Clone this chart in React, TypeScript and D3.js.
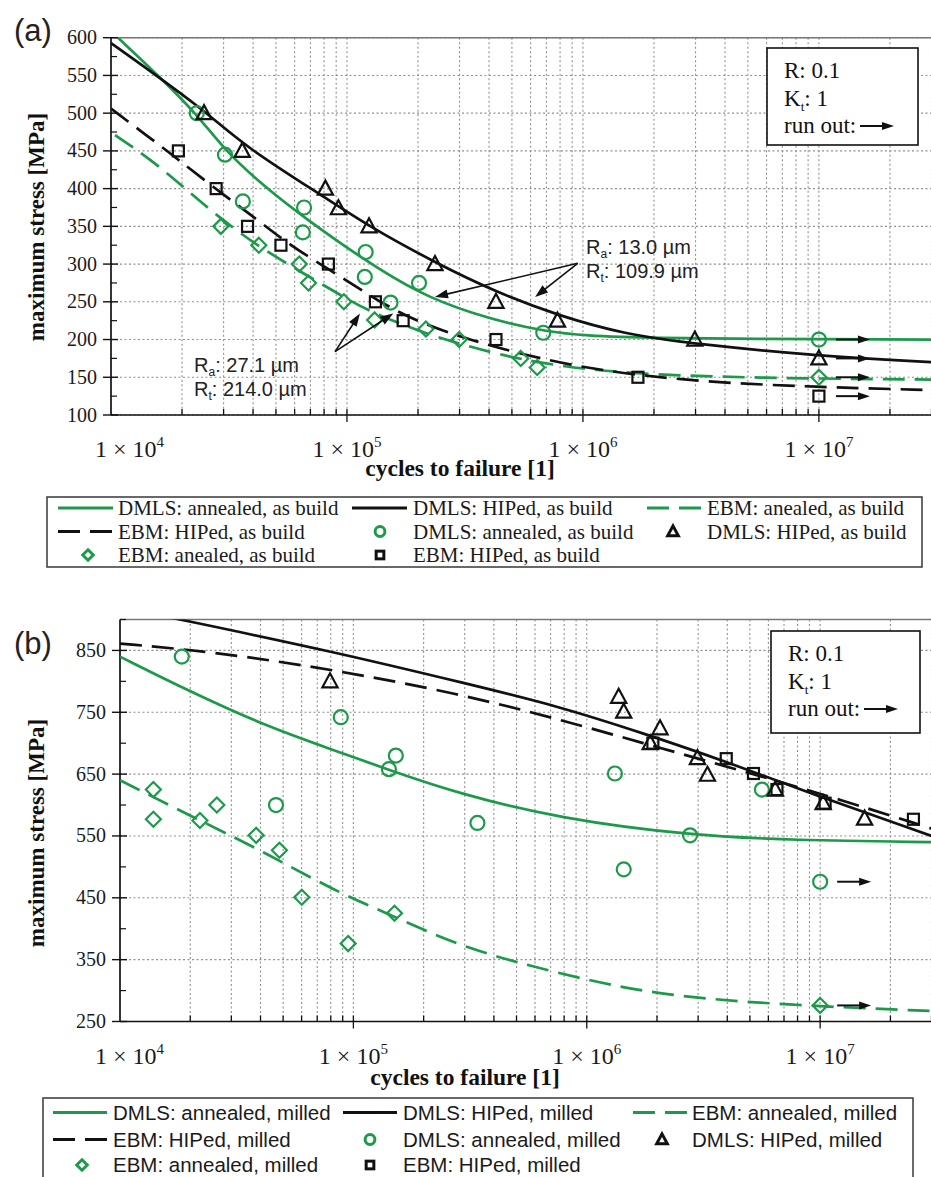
import React from "react";
import * as d3 from "d3";

type Pt = [number, number];

const GREEN = "#1c9a4a";
const INK = "#111111";
const GRID = "#8f8f8f";
const SERIF = "'Liberation Serif', 'Times New Roman', serif";
const SANS = "'Liberation Sans', Arial, sans-serif";

// ---------- shared x axis ----------
const xDomain: Pt = [1e4, 3e7];
const xTickExponents = [4, 5, 6, 7];

// ---------- panel (a): as build ----------
const aYDomain: Pt = [100, 600];
const aYTicks = [100, 150, 200, 250, 300, 350, 400, 450, 500, 550, 600];
const aYMinor = [125, 175, 225, 275, 325, 375, 425, 475, 525, 575];

const aLineDmlsAnnealed: Pt[] = [[1.07e4, 600], [1.5e4, 557], [2.3e4, 500], [3.04e4, 450], [4.5e4, 402], [6.5e4, 363], [1.2e5, 304], [2e5, 262], [3.3e5, 235], [6.8e5, 209], [1.5e6, 201], [3e7, 200]];
const aLineDmlsHiped: Pt[] = [[1e4, 593], [2.48e4, 505], [3.6e4, 458], [8.1e4, 388], [1.24e5, 350], [2.36e5, 302], [4.28e5, 263], [7.8e5, 232], [1.5e6, 207], [3e6, 194], [1e7, 178], [3e7, 170]];
const aLineEbmAnnealed: Pt[] = [[1.04e4, 471], [1.5e4, 437], [2.1e4, 398], [2.92e4, 360], [4.23e4, 323], [6.28e4, 291], [9.7e4, 256], [1.31e5, 234], [2.16e5, 208], [3e5, 194], [6.4e5, 167], [2.12e6, 150], [3e7, 147]];
const aLineEbmHiped: Pt[] = [[1e4, 506], [1.51e4, 464], [1.9e4, 440], [2.71e4, 402], [4.01e4, 363], [5.72e4, 325], [8.5e4, 292], [1.21e5, 261], [1.57e5, 240], [2.04e5, 223], [3.01e5, 203], [8.5e5, 164], [2.93e6, 144], [1e7, 137], [3e7, 133]];

const aPtsDmlsAnnealed: Pt[] = [[2.31e4, 500], [3.04e4, 445], [3.62e4, 383], [6.58e4, 375], [6.5e4, 342], [1.2e5, 316], [1.19e5, 283], [1.53e5, 249], [2.02e5, 275], [6.79e5, 209], [1e7, 200]];
const aPtsDmlsHiped: Pt[] = [[2.48e4, 500], [3.6e4, 450], [8.1e4, 400], [9.2e4, 374], [1.24e5, 350], [2.36e5, 300], [4.28e5, 250], [7.8e5, 225], [2.98e6, 200], [1e7, 175]];
const aPtsEbmAnnealed: Pt[] = [[2.92e4, 350], [4.23e4, 325], [6.28e4, 300], [6.87e4, 275], [9.7e4, 250], [1.31e5, 226], [2.16e5, 214], [2.99e5, 200], [5.45e5, 175], [6.4e5, 163], [1e7, 150]];
const aPtsEbmHiped: Pt[] = [[1.93e4, 450], [2.79e4, 400], [3.79e4, 350], [5.25e4, 325], [8.34e4, 300], [1.32e5, 250], [1.73e5, 225], [4.28e5, 200], [1.71e6, 150], [1e7, 125]];
const aRunouts: Pt[] = [[1e7, 200], [1e7, 175], [1e7, 150], [1e7, 125]];

const aLegendLabels = [
  "DMLS: annealed, as build", "DMLS: HIPed, as build", "EBM: anealed, as build",
  "EBM: HIPed, as build", "DMLS: annealed, as build", "DMLS: HIPed, as build",
  "EBM: anealed, as build", "EBM: HIPed, as build",
];

// ---------- panel (b): milled ----------
const bYDomain: Pt = [250, 900];
const bYTicks = [250, 350, 450, 550, 650, 750, 850];
const bYMinor = [300, 400, 500, 600, 700, 800, 900];

const bLineDmlsAnnealed: Pt[] = [[1e4, 840], [1.93e4, 786], [4.25e4, 727], [8.2e4, 689], [1.44e5, 656], [2.85e5, 618], [7.7e5, 578], [2.77e6, 551], [7.7e6, 543], [3e7, 540]];
const bLineDmlsHiped: Pt[] = [[1e4, 920], [1.81e4, 900], [8.2e4, 848], [3.16e5, 795], [7.7e5, 759], [1.75e6, 716], [3.98e6, 670], [9.06e6, 619], [3e7, 550]];
const bLineEbmAnnealed: Pt[] = [[1e4, 640], [2.2e4, 575], [4.25e4, 522], [8.2e4, 462], [1.58e5, 416], [3e5, 368], [7.7e5, 327], [2e6, 292], [7.7e6, 276], [3e7, 267]];
const bLineEbmHiped: Pt[] = [[1e4, 861], [2.5e4, 848], [8.2e4, 819], [2.85e5, 780], [7.7e5, 738], [1.75e6, 700], [3.98e6, 662], [9.06e6, 624], [3e7, 562]];

const bPtsDmlsAnnealed: Pt[] = [[1.84e4, 840], [8.83e4, 742], [1.52e5, 680], [1.42e5, 658], [4.66e4, 600], [1.32e6, 651], [3.4e5, 571], [2.77e6, 551], [1.44e6, 496], [5.63e6, 625], [1e7, 476]];
const bPtsDmlsHiped: Pt[] = [[7.94e4, 800], [1.37e6, 775], [1.44e6, 751], [2.06e6, 724], [1.87e6, 700], [2.98e6, 676], [3.29e6, 649], [6.42e6, 625], [1.03e7, 603], [1.55e7, 578]];
const bPtsEbmAnnealed: Pt[] = [[1.39e4, 625], [1.39e4, 577], [2.2e4, 575], [2.6e4, 600], [3.83e4, 551], [4.82e4, 527], [6.01e4, 451], [9.5e4, 376], [1.5e5, 425], [1e7, 276]];
const bPtsEbmHiped: Pt[] = [[1.92e6, 700], [3.96e6, 675], [5.18e6, 651], [6.53e6, 625], [1.05e7, 603], [2.51e7, 577]];
const bRunouts: Pt[] = [[1e7, 476], [1e7, 276]];

const bLegendLabels = [
  "DMLS: annealed, milled", "DMLS: HIPed, milled", "EBM: annealed, milled",
  "EBM: HIPed, milled", "DMLS: annealed, milled", "DMLS: HIPed, milled",
  "EBM: annealed, milled", "EBM: HIPed, milled",
];

// roughness annotations (panel a), in data coordinates
const annotTop = { text: ["a", "13.0 µm", "t", "109.9 µm"], from: [9.5e5, 301] as Pt, tips: [[2.36e5, 256.5], [6.27e5, 256.5]] as Pt[] };
const annotBottom = { text: ["a", "27.1 µm", "t", "214.0 µm"], from: [8.9e4, 184] as Pt, tips: [[1.135e5, 234.5], [1.57e5, 234.5]] as Pt[] };

type Shape = "circle" | "triangle" | "square" | "diamond";

function Marker({ shape, x, y, color, s = 1, sw = 2.2 }: { shape: Shape; x: number; y: number; color: string; s?: number; sw?: number }) {
  const common = { fill: "none", stroke: color, strokeWidth: sw, strokeLinejoin: "miter" as const };
  if (shape === "circle") return <circle cx={x} cy={y} r={7 * s} {...common} />;
  if (shape === "square") return <rect x={x - 5.5 * s} y={y - 5.5 * s} width={11 * s} height={11 * s} {...common} />;
  if (shape === "triangle")
    return <path d={`M${x},${y - 8 * s} L${x + 7.6 * s},${y + 6 * s} L${x - 7.6 * s},${y + 6 * s} Z`} {...common} />;
  return <path d={`M${x},${y - 7.5 * s} L${x + 7.5 * s},${y} L${x},${y + 7.5 * s} L${x - 7.5 * s},${y} Z`} {...common} />;
}

function Arrow({ x1, y1, x2, y2, w = 1.6, head = 11, hw = 4 }: { x1: number; y1: number; x2: number; y2: number; w?: number; head?: number; hw?: number }) {
  const dx = x2 - x1, dy = y2 - y1, L = Math.hypot(dx, dy);
  const ux = dx / L, uy = dy / L;
  const bx = x2 - ux * head, by = y2 - uy * head;
  const px = -uy * hw, py = ux * hw;
  return (
    <g>
      <line x1={x1} y1={y1} x2={bx + ux * 2} y2={by + uy * 2} stroke={INK} strokeWidth={w} />
      <polygon points={`${x2},${y2} ${bx + px},${by + py} ${bx - px},${by - py}`} fill={INK} />
    </g>
  );
}

type Curve = { pts: Pt[]; color: string; dash?: string };
type Scatter = { pts: Pt[]; shape: Shape; color: string };
type LegendItem = { kind: "line"; color: string; dash?: string } | { kind: "marker"; shape: Shape; color: string };

type PanelCfg = {
  id: string;
  label: string;
  left: number;
  top: number;
  bottom: number;
  yDomain: Pt;
  yTicks: number[];
  yMinor: number[];
  curves: Curve[];
  scatters: Scatter[];
  runouts: Pt[];
  labelBaseline: number;
  yTitleY: number;
  xTitleX: number;
  xTitleDy: number;
  box: { x: number; y: number; w: number; h: number };
  legend: {
    box: { x: number; y: number; w: number; h: number };
    lineStart: number[];
    lineLen: number;
    textX: number[];
    markerX: number[];
    rows: number[];
    font: string;
    fontSize: number;
    items: LegendItem[];
    labels: string[];
  };
};

const RIGHT = 931.5;

function Panel({ cfg, children }: { cfg: PanelCfg; children?: (x: d3.ScaleLogarithmic<number, number>, y: d3.ScaleLinear<number, number>) => React.ReactNode }) {
  const x = d3.scaleLog().domain(xDomain).range([cfg.left, RIGHT]);
  const y = d3.scaleLinear().domain(cfg.yDomain).range([cfg.bottom, cfg.top]);
  const line = d3.line<Pt>().x((d) => x(d[0])).y((d) => y(d[1])).curve(d3.curveBasis);

  const gridX: number[] = [];
  for (const e of [4, 5, 6, 7]) for (let k = 1; k <= 9; k++) {
    const v = k * Math.pow(10, e);
    if (v > xDomain[0] && v <= xDomain[1] + 1) gridX.push(v);
  }
  const lg = cfg.legend;

  return (
    <g>
      <defs>
        <clipPath id={`clip-${cfg.id}`}>
          <rect x={cfg.left} y={cfg.top} width={RIGHT - cfg.left} height={cfg.bottom - cfg.top} />
        </clipPath>
      </defs>
      {/* grid */}
      {gridX.map((v, i) => (
        <line key={`gx${i}`} x1={x(v)} x2={x(v)} y1={cfg.top} y2={cfg.bottom} stroke={GRID} strokeWidth={1.1} strokeDasharray="2,2.5" />
      ))}
      {cfg.yTicks.map((v, i) => (
        <line key={`gy${i}`} x1={cfg.left} x2={RIGHT} y1={y(v)} y2={y(v)} stroke={GRID} strokeWidth={1.1} strokeDasharray="2,2.5" />
      ))}
      {/* frame */}
      <line x1={cfg.left} x2={RIGHT} y1={cfg.top} y2={cfg.top} stroke="#777" strokeWidth={1.5} />
      <line x1={cfg.left} x2={cfg.left} y1={cfg.top} y2={cfg.bottom} stroke={INK} strokeWidth={1.7} />
      <line x1={cfg.left} x2={RIGHT} y1={cfg.bottom} y2={cfg.bottom} stroke={INK} strokeWidth={1.7} />
      {/* y ticks */}
      {cfg.yTicks.map((v, i) => (
        <g key={`yt${i}`}>
          <line x1={cfg.left - 8} x2={cfg.left + 7} y1={y(v)} y2={y(v)} stroke={INK} strokeWidth={1.4} />
          <text x={cfg.left - 14} y={y(v) + 6.5} textAnchor="end" fontFamily={SERIF} fontSize={20} fill="#1a1a1a">{v}</text>
        </g>
      ))}
      {cfg.yMinor.map((v, i) => (
        <line key={`ym${i}`} x1={cfg.left} x2={cfg.left + 6} y1={y(v)} y2={y(v)} stroke={INK} strokeWidth={1.2} />
      ))}
      {/* x ticks */}
      {gridX.map((v, i) => {
        const major = Math.abs(Math.log10(v) - Math.round(Math.log10(v))) < 1e-9;
        return <line key={`xt${i}`} x1={x(v)} x2={x(v)} y1={cfg.bottom - 6} y2={cfg.bottom + (major ? 7 : 0)} stroke={INK} strokeWidth={1.3} />;
      })}
      {xTickExponents.map((e, i) => (
        <text key={`xl${i}`} x={i === 0 ? 95 : x(Math.pow(10, e))} y={cfg.bottom + 42} textAnchor={i === 0 ? "start" : "middle"} fontFamily={SERIF} fontSize={24} fill="#1a1a1a">
          1 × 10<tspan dy={-10} fontSize={15}>{e}</tspan>
        </text>
      ))}
      {/* titles */}
      <text x={cfg.xTitleX} y={cfg.bottom + cfg.xTitleDy} textAnchor="middle" fontFamily={SERIF} fontWeight="bold" fontSize={23.5} fill="#111">cycles to failure [1]</text>
      <text transform={`translate(44,${cfg.yTitleY}) rotate(-90)`} textAnchor="middle" fontFamily={SERIF} fontWeight="bold" fontSize={23} fill="#111">maximum stress [MPa]</text>
      <text x={14} y={cfg.labelBaseline} fontFamily={SANS} fontSize={31} fill="#222">{cfg.label}</text>

      {/* curves */}
      <g clipPath={`url(#clip-${cfg.id})`}>
        {cfg.curves.map((c, i) => (
          <path key={`c${i}`} d={line(c.pts) || ""} fill="none" stroke={c.color} strokeWidth={2.7} strokeDasharray={c.dash} />
        ))}
      </g>
      {/* run-out arrows */}
      {cfg.runouts.map((p, i) => (
        <Arrow key={`ro${i}`} x1={x(p[0]) + 17} y1={y(p[1])} x2={x(p[0]) + 51} y2={y(p[1])} w={2} head={12} hw={4} />
      ))}
      {/* points */}
      {cfg.scatters.map((s, i) => (
        <g key={`s${i}`}>
          {s.pts.map((p, j) => (
            <Marker key={j} shape={s.shape} x={x(p[0])} y={y(p[1])} color={s.color} />
          ))}
        </g>
      ))}
      {children && children(x, y)}

      {/* info box */}
      <rect x={cfg.box.x} y={cfg.box.y} width={cfg.box.w} height={cfg.box.h} fill="white" stroke={INK} strokeWidth={1.6} />
      <text x={cfg.box.x + 17} y={cfg.box.y + 30} fontFamily={SERIF} fontSize={23} fill="#111">R: 0.1</text>
      <text x={cfg.box.x + 17} y={cfg.box.y + 58} fontFamily={SERIF} fontSize={23} fill="#111">
        K<tspan dy={5} fontSize={13}>t</tspan><tspan dy={-5}>: 1</tspan>
      </text>
      <text x={cfg.box.x + 17} y={cfg.box.y + 85} fontFamily={SERIF} fontSize={23} fill="#111">run out:</text>
      <Arrow x1={cfg.box.x + 93} y1={cfg.box.y + 78} x2={cfg.box.x + 127} y2={cfg.box.y + 78} w={2} head={12} hw={4} />

      {/* legend */}
      <rect x={lg.box.x} y={lg.box.y} width={lg.box.w} height={lg.box.h} fill="white" stroke="#444" strokeWidth={1.6} />
      {lg.items.map((it, i) => {
        const col = i % 3, row = Math.floor(i / 3);
        const cy = lg.rows[row];
        return (
          <g key={`lg${i}`}>
            {it.kind === "line" ? (
              <line x1={lg.lineStart[col]} x2={lg.lineStart[col] + lg.lineLen} y1={cy} y2={cy} stroke={it.color} strokeWidth={3.2} strokeDasharray={it.dash} />
            ) : (
              <Marker shape={it.shape} x={lg.markerX[col]} y={cy} color={it.color} s={0.7} sw={3} />
            )}
            <text x={lg.textX[col]} y={cy + lg.fontSize * 0.35} fontFamily={lg.font} fontSize={lg.fontSize} fill="#1a1a1a">{lg.labels[i]}</text>
          </g>
        );
      })}
    </g>
  );
}

const DASH = "22,10";
const legendItems: LegendItem[] = [
  { kind: "line", color: GREEN },
  { kind: "line", color: INK },
  { kind: "line", color: GREEN, dash: DASH },
  { kind: "line", color: INK, dash: DASH },
  { kind: "marker", shape: "circle", color: GREEN },
  { kind: "marker", shape: "triangle", color: INK },
  { kind: "marker", shape: "diamond", color: GREEN },
  { kind: "marker", shape: "square", color: INK },
];

const cfgA: PanelCfg = {
  id: "a",
  label: "(a)",
  left: 111,
  top: 37.7,
  bottom: 415,
  yDomain: aYDomain,
  yTicks: aYTicks,
  yMinor: aYMinor,
  curves: [
    { pts: aLineDmlsAnnealed, color: GREEN },
    { pts: aLineDmlsHiped, color: INK },
    { pts: aLineEbmAnnealed, color: GREEN, dash: DASH },
    { pts: aLineEbmHiped, color: INK, dash: DASH },
  ],
  scatters: [
    { pts: aPtsDmlsAnnealed, shape: "circle", color: GREEN },
    { pts: aPtsDmlsHiped, shape: "triangle", color: INK },
    { pts: aPtsEbmAnnealed, shape: "diamond", color: GREEN },
    { pts: aPtsEbmHiped, shape: "square", color: INK },
  ],
  runouts: aRunouts,
  labelBaseline: 41,
  yTitleY: 227,
  xTitleX: 460,
  xTitleDy: 61,
  box: { x: 767, y: 48, w: 151, h: 97 },
  legend: {
    box: { x: 47, y: 497, w: 875, h: 70 },
    lineStart: [58, 352, 647],
    lineLen: 55,
    textX: [118, 413, 707],
    markerX: [88, 380, 673],
    rows: [508, 531.5, 555],
    font: SERIF,
    fontSize: 21,
    items: legendItems,
    labels: aLegendLabels,
  },
};

const cfgB: PanelCfg = {
  id: "b",
  label: "(b)",
  left: 120,
  top: 619.5,
  bottom: 1021.5,
  yDomain: bYDomain,
  yTicks: bYTicks,
  yMinor: bYMinor,
  curves: [
    { pts: bLineDmlsAnnealed, color: GREEN },
    { pts: bLineDmlsHiped, color: INK },
    { pts: bLineEbmAnnealed, color: GREEN, dash: DASH },
    { pts: bLineEbmHiped, color: INK, dash: DASH },
  ],
  scatters: [
    { pts: bPtsDmlsAnnealed, shape: "circle", color: GREEN },
    { pts: bPtsDmlsHiped, shape: "triangle", color: INK },
    { pts: bPtsEbmAnnealed, shape: "diamond", color: GREEN },
    { pts: bPtsEbmHiped, shape: "square", color: INK },
  ],
  runouts: bRunouts,
  labelBaseline: 654,
  yTitleY: 833,
  xTitleX: 465,
  xTitleDy: 63.5,
  box: { x: 771, y: 631, w: 149, h: 102 },
  legend: {
    box: { x: 43, y: 1098, w: 870, h: 100 },
    lineStart: [53, 343, 633],
    lineLen: 54,
    textX: [113, 403, 692],
    markerX: [82, 370, 662],
    rows: [1112.5, 1139.5, 1165],
    font: SANS,
    fontSize: 20.5,
    items: legendItems,
    labels: bLegendLabels,
  },
};

function Annotation({ a, x, y, textX, baseline }: { a: typeof annotTop; x: d3.ScaleLogarithmic<number, number>; y: d3.ScaleLinear<number, number>; textX: number; baseline: number }) {
  const fx = x(a.from[0]), fy = y(a.from[1]);
  return (
    <g>
      {a.tips.map((t, i) => (
        <Arrow key={i} x1={fx} y1={fy} x2={x(t[0])} y2={y(t[1])} w={1.6} head={13} hw={4.5} />
      ))}
      <text x={textX} y={baseline} fontFamily={SANS} fontSize={20} fill="#222">
        R<tspan dy={4} fontSize={12}>{a.text[0]}</tspan><tspan dy={-4}>: {a.text[1]}</tspan>
      </text>
      <text x={textX} y={baseline + 23.5} fontFamily={SANS} fontSize={20} fill="#222">
        R<tspan dy={4} fontSize={12}>{a.text[2]}</tspan><tspan dy={-4}>: {a.text[3]}</tspan>
      </text>
    </g>
  );
}

export default function App() {
  return (
    <svg width={931} height={1177} viewBox="0 0 931 1177" style={{ position: "absolute", left: 0, top: 0, background: "white" }}>
      <rect x={0} y={0} width={931} height={1177} fill="white" />
      <Panel cfg={cfgA}>
        {(x, y) => (
          <g>
            <Annotation a={annotTop} x={x} y={y} textX={586} baseline={254} />
            <Annotation a={annotBottom} x={x} y={y} textX={194} baseline={372} />
          </g>
        )}
      </Panel>
      <Panel cfg={cfgB} />
    </svg>
  );
}
